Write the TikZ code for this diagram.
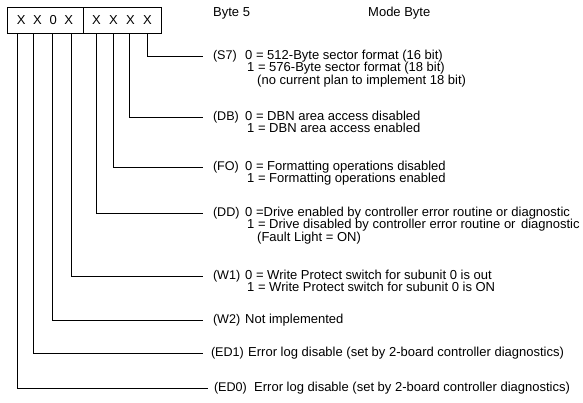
\documentclass[tikz,border=0pt]{standalone}
\usepackage{fontspec}
\setmainfont{Liberation Sans}
\usetikzlibrary{positioning}
\tikzstyle{halfbyte} = [rectangle, draw=black, minimum width=77pt, minimum height=26pt, inner sep=0pt, font=\fontsize{13}{12.5}\selectfont]
\tikzstyle{tag} = [anchor=west, inner sep=0pt, outer xsep=10pt, text height=9.3pt, text depth=3.2pt, font=\fontsize{12.6}{12.5}\selectfont]
\tikzstyle{desc} = [anchor=west, inner sep=0pt, text height=9.3pt, text depth=3.2pt, font=\fontsize{13}{12.5}\selectfont]
\tikzstyle{head} = [anchor=west, inner sep=0pt, font=\fontsize{13}{12.5}\selectfont]
\tikzstyle{lead} = [thin, black]

\begin{document}
\begin{tikzpicture}[x=1pt, y=-1pt]
	\useasboundingbox (0,0) rectangle (583,402);
	\node (lefthalf)[halfbyte, minimum width=76pt] at (45,20) {X\hspace{7.6pt}X\hspace{7.6pt}0\hspace{7.6pt}X};
	\node (righthalf)[halfbyte, minimum width=78pt] at (122,20) {X\hspace{8.3pt}X\hspace{8.3pt}X\hspace{8.3pt}X};
	\node (byte)[head] at (213,13) {Byte 5};
	\node (mode)[head] at (368,13) {Mode Byte};
	\coordinate (desccol) at (245,0);
	\coordinate (ted0) at (17,33);
	\coordinate (ted1) at (33,33);
	\coordinate (tw2) at (52,33);
	\coordinate (tw1) at (71,33);
	\coordinate (tdd) at (96,33);
	\coordinate (tfo) at (113,33);
	\coordinate (tdb) at (129,33);
	\coordinate (ts7) at (147,33);
	\node (s7)[tag] at (203,56) {(S7)};
	\node (db)[tag] at (203,117) {(DB)};
	\node (fo)[tag] at (203,167) {(FO)};
	\node (dd)[tag] at (203,213) {(DD)};
	\node (w1)[tag] at (203,276) {(W1)};
	\node (w2)[tag] at (203,320) {(W2)};
	\node (ed1)[tag, outer xsep=8pt] at (203,353) {(ED1)};
	\node (ed0)[tag, outer xsep=6pt] at (208,388) {(ED0)};
	\node (s7a)[desc] at (s7 -| desccol) {0 = 512-Byte sector format (16 bit)};
	\node (s7b)[desc, below right=0pt and 2pt of s7a.south west] {1 = 576-Byte sector format (18 bit)};
	\node (s7c)[desc, below right=0pt and 10pt of s7b.south west] {(no current plan to implement 18 bit)};
	\node (dba)[desc] at (db -| desccol) {0 = DBN area access disabled};
	\node (dbb)[desc, below right=0pt and 2pt of dba.south west] {1 = DBN area access enabled};
	\node (foa)[desc] at (fo -| desccol) {0 = Formatting operations disabled};
	\node (fob)[desc, below right=0pt and 2pt of foa.south west] {1 = Formatting operations enabled};
	\node (dda)[desc] at (dd -| desccol) {0 =Drive enabled by controller error routine or diagnostic};
	\node (ddb)[desc, below right=0pt and 2pt of dda.south west] {1 = Drive disabled by controller error routine or\hspace{5.5pt}diagnostic};
	\node (ddc)[desc, below right=0pt and 10pt of ddb.south west] {(Fault Light = ON)};
	\node (w1a)[desc] at (w1 -| desccol) {0 = Write Protect switch for subunit 0 is out};
	\node (w1b)[desc, below right=0pt and 2pt of w1a.south west] {1 = Write Protect switch for subunit 0 is ON};
	\node (w2a)[desc] at (w2 -| desccol) {Not implemented};
	\node (ed1a)[desc, xshift=3pt] at (ed1 -| desccol) {Error log disable (set by 2-board controller diagnostics)};
	\node (ed0a)[desc, xshift=9pt] at (ed0 -| desccol) {Error log disable (set by 2-board controller diagnostics)};
	\draw [lead] (ts7) |- (s7);
	\draw [lead] (tdb) |- (db);
	\draw [lead] (tfo) |- (fo);
	\draw [lead] (tdd) |- (dd);
	\draw [lead] (tw1) |- (w1);
	\draw [lead] (tw2) |- (w2);
	\draw [lead] (ted1) |- (ed1);
	\draw [lead] (ted0) |- (ed0);
\end{tikzpicture}
\end{document}
